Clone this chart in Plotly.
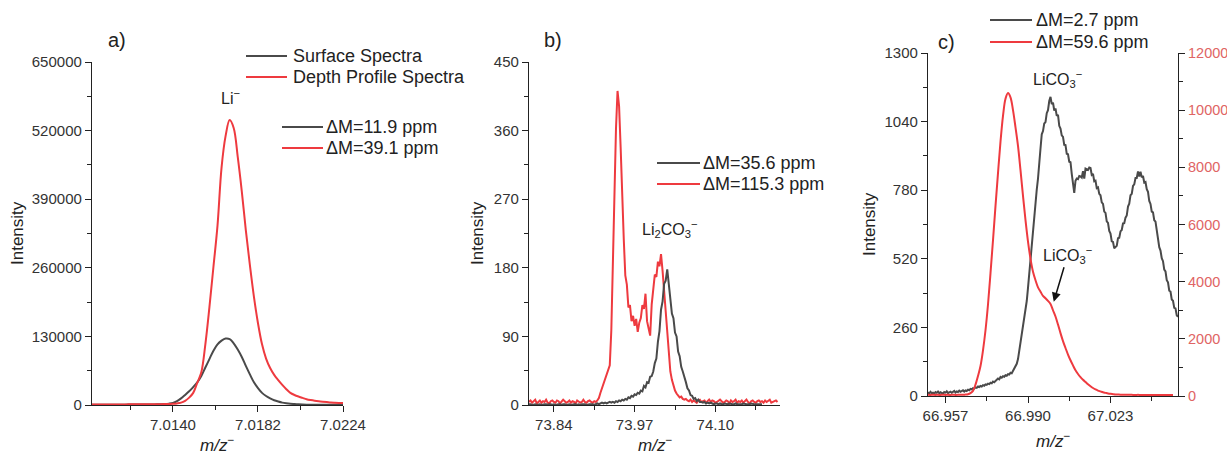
import plotly.graph_objects as go

W, H = 1227, 457

GRAY = "#4a4a4a"
RED = "#ee3a3f"
AXIS = "#222222"
FONT = "Liberation Sans, Arial, sans-serif"

# ---------------- a) Li- ----------------
A_MZ0, A_STEP = 7.0100, 0.0002
a_surface = [
    500, 500, 500, 550, 550, 600, 600, 650, 700, 750,
    800, 850, 900, 950, 1000, 1100, 1250, 1450, 1750, 2500,
    4000, 7500, 12500, 19000, 26000, 34000, 43000, 55000, 71000, 87000,
    103000, 115000, 122000, 126000, 125000, 117000, 105000, 91000, 74000, 58000,
    43000, 32000, 23000, 17000, 12500, 9000, 6500, 4500, 3200, 2300,
    1700, 1200, 900, 700, 600, 500, 450, 400, 400, 400,
    400, 400, 400,
]
a_depth = [
    1000, 1000, 1000, 1000, 1050, 1050, 1100, 1100, 1150, 1200,
    1250, 1300, 1350, 1400, 1450, 1500, 1550, 1650, 1800, 2000,
    2200, 3000, 4500, 8000, 14000, 23000, 42000, 62000, 115000, 185000,
    262000, 340000, 450000, 510000, 540000, 525000, 470000, 405000, 331000, 265000,
    205000, 155000, 115000, 88000, 70000, 57000, 47000, 38000, 30000, 23000,
    19000, 16000, 13500, 11000, 9300, 8000, 7000, 6200, 5500, 4800,
    4300, 3900, 3600,
]
a_mz = [round(A_MZ0 + A_STEP * i, 4) for i in range(len(a_surface))]

# ---------------- b) Li2CO3- ----------------
B_MZ0, B_STEP = 73.800, 0.0025
b_surface = [
    1, 1, 0, 1, 1, 0, 1, 1, 0, 1, 1, 1, 0, 1, 1, 0, 1, 0, 1, 1,
    1, 0, 1, 1, 0, 1, 1, 0, 1, 1, 1, 0, 1, 0, 1, 1, 1, 0, 1, 1,
    1, 1, 0, 1, 2, 1, 2, 3, 2, 3, 2, 3, 4,
    3, 4, 3, 5, 4, 6, 5, 7, 6, 8, 7, 10, 9, 12, 11, 14, 13, 16, 15, 19,
    18, 25, 23, 30, 29, 37, 38, 44, 55, 61, 83, 97, 125, 136, 159, 163,
    178, 160, 146, 120, 114, 95, 90, 70, 64, 50, 44, 35, 30, 22, 19, 13,
    12, 8, 9, 5, 7, 4,
    4, 3, 4, 2, 3, 2, 3, 2, 1, 2, 2, 1, 2, 1, 1, 2, 1, 1, 2, 1,
    1, 1, 2, 1, 1, 1, 1, 2, 1, 1, 1, 1, 2, 1, 1, 1, 1, 1, 1, 1,
]
b_depth = [
    4, 6, 3, 5, 7, 2, 4, 6, 3, 5, 4, 7, 3, 2, 5, 6, 4, 3, 6, 5,
    2, 4, 7, 5, 3, 4, 6, 3, 5, 4, 2, 6, 5, 3, 4, 7, 4, 3, 5, 6,
    4, 3, 5, 4, 6,
    9, 16, 22, 26, 31, 38, 45, 52,
    98, 185, 292, 362, 412, 392, 338, 262, 218, 170, 158, 128, 131, 110, 117, 104,
    113, 96, 108, 114, 131, 126, 146, 110, 100, 91, 132, 150, 171, 168, 188, 182,
    198, 176, 147, 118, 88, 62, 44, 33, 25, 19, 15, 13, 10, 11, 8, 7,
    8, 6, 5, 7, 4, 6, 5, 3, 6, 7, 4, 5, 6, 3, 5, 7, 4, 6, 5, 3,
    4, 6, 7, 5, 3, 4, 6, 5, 2, 6, 4, 5, 7, 3, 5, 4, 6, 3, 5, 7,
    4, 2, 5, 6, 4, 3, 5, 6, 4, 5, 3, 6, 4, 5, 7, 3, 4, 5, 6, 4,
]
b_mz_s = [round(B_MZ0 + B_STEP * i, 4) for i in range(len(b_surface))]
b_mz_d = [round(B_MZ0 + B_STEP * i, 4) for i in range(len(b_depth))]

# ---------------- c) LiCO3- ----------------
C_MZ0 = 66.950
C_STEP_S, C_STEP_D = 0.0005, 0.001
c_surface = [
    14, 9, 16, 11, 13, 8, 15, 12, 17, 10, 14, 12, 9, 15, 13, 18, 11, 14, 16, 12,
    15, 19, 13, 17, 15, 20, 16, 18, 22, 17, 21, 19, 24, 22, 27, 25, 30, 28, 33, 31,
    36, 34, 38, 36, 41, 39, 44, 42, 47, 45, 50, 48, 55, 52, 58, 61, 66, 63, 72, 69,
    75, 73, 79, 77, 83, 81, 88, 86, 95, 104, 112, 122, 140, 170, 210, 240, 262, 290, 318, 360,
    410, 466, 500, 556, 604, 668, 714, 782, 824, 897, 938, 992, 1004, 1033, 1038, 1072, 1083, 1118, 1134, 1106,
    1112, 1082, 1090, 1062, 1066, 1024, 1014, 988, 982, 952, 951, 918, 916, 888, 886, 842, 806, 770, 816, 824,
    822, 834, 832, 828, 852, 824, 862, 858, 857, 866, 864, 838, 842, 814, 816, 788, 791, 766, 761, 734,
    728, 699, 694, 662, 656, 626, 616, 586, 584, 560, 566, 569, 598, 600, 624, 629, 654, 655, 676, 684,
    718, 729, 761, 766, 796, 802, 826, 826, 851, 832, 850, 829, 834, 809, 811, 784, 774, 739, 728, 699,
    696, 666, 661, 622, 604, 564, 551, 522, 511, 479, 472, 439, 431, 399, 396, 366, 361, 334, 332, 306,
    300,
]
c_depth = [
    40, 35, 45, 38, 42, 36, 44, 39, 41, 37, 43, 38, 40, 45, 42, 50,
    60, 100, 180, 400, 700, 1050, 1600, 2300, 3200, 4300, 5450, 6650, 7800, 8900,
    9800, 10400, 10600, 10450, 10000, 9400, 8750, 7900, 7000, 6150, 5400, 4800, 4350, 4050,
    3800, 3650, 3500, 3420, 3330, 3220, 3000, 2780, 2500, 2200, 1920, 1680, 1450, 1250,
    1070, 900, 770, 660, 570, 490, 410, 340, 280, 230, 190, 160, 130, 110, 90, 75,
    65, 55, 50, 46, 44, 42, 40, 41, 39, 38, 40, 37, 39, 38, 36, 38, 37, 39, 36, 38,
    37, 36, 38, 37, 36,
]
c_mz_s = [round(C_MZ0 + C_STEP_S * i, 4) for i in range(len(c_surface))]
c_mz_d = [round(C_MZ0 + C_STEP_D * i, 4) for i in range(len(c_depth))]

# legend rows: (line x0, line x1, text x, y, colour, label) in pixels
LEGEND_ROWS = [
    (246, 287, 291, 56, GRAY, "Surface Spectra"),
    (246, 287, 291, 77, RED, "Depth Profile Spectra"),
    (282, 323, 324, 127, GRAY, "\u0394M=11.9 ppm"),
    (282, 323, 324, 148, RED, "\u0394M=39.1 ppm"),
    (657, 700, 701, 163, GRAY, "\u0394M=35.6 ppm"),
    (657, 700, 701, 184, RED, "\u0394M=115.3 ppm"),
    (990, 1032, 1034, 20, GRAY, "\u0394M=2.7 ppm"),
    (990, 1032, 1034, 42, RED, "\u0394M=59.6 ppm"),
]


def px(x):
    return x / W


def py(y):
    return 1 - y / H


fig = go.Figure()
line_g = dict(color=GRAY, width=2)
line_r = dict(color=RED, width=2)

# a)
fig.add_trace(go.Scatter(x=a_mz, y=a_surface, mode="lines", line=dict(line_g, shape="spline"),
                         name="Surface Spectra", xaxis="x", yaxis="y"))
fig.add_trace(go.Scatter(x=a_mz, y=a_depth, mode="lines", line=dict(line_r, shape="spline"),
                         name="Depth Profile Spectra", xaxis="x", yaxis="y"))

# b)
fig.add_trace(go.Scatter(x=b_mz_d, y=b_depth, mode="lines", line=line_r,
                         name="\u0394M=115.3 ppm", xaxis="x2", yaxis="y2"))
fig.add_trace(go.Scatter(x=b_mz_s, y=b_surface, mode="lines", line=line_g,
                         name="\u0394M=35.6 ppm", xaxis="x2", yaxis="y2"))

# c)
fig.add_trace(go.Scatter(x=c_mz_d, y=c_depth, mode="lines", line=dict(line_r, shape="spline"),
                         name="\u0394M=59.6 ppm", xaxis="x3", yaxis="y4"))
fig.add_trace(go.Scatter(x=c_mz_s, y=c_surface, mode="lines", line=line_g,
                         name="\u0394M=2.7 ppm", xaxis="x3", yaxis="y3"))

axis_common = dict(
    showline=True, linecolor=AXIS, linewidth=1.3, mirror=False, automargin=False,
    ticks="outside", ticklen=6, tickwidth=1.3, tickcolor=AXIS,
    showgrid=False, zeroline=False,
    tickfont=dict(family=FONT, size=15, color="#333333"),
)


def minor(dtick, tick0):
    return dict(ticks="outside", ticklen=3.5, tickwidth=1.2, tickcolor=AXIS,
                dtick=dtick, tick0=tick0, showgrid=False)


top_ab, bot_ab = py(62), py(405)
top_c, bot_c = py(53), py(396)

fig.update_layout(
    width=W, height=H,
    margin=dict(l=0, r=0, t=0, b=0, autoexpand=False),
    paper_bgcolor="white", plot_bgcolor="white",
    font=dict(family=FONT, size=14, color="#222222"),
    showlegend=False,
    xaxis=dict(axis_common, domain=[px(92), px(343)], anchor="y",
               range=[7.0100, 7.0224], tick0=7.0140, dtick=0.0042, tickformat=".4f",
               minor=minor(0.0021, 7.0140)),
    yaxis=dict(axis_common, domain=[bot_ab, top_ab], anchor="x",
               range=[0, 650000], tick0=0, dtick=130000, tickformat="d",
               minor=minor(65000, 0)),
    xaxis2=dict(axis_common, domain=[px(529), px(780)], anchor="y2",
                range=[73.80, 74.204], tick0=73.84, dtick=0.13, tickformat=".2f",
                minor=minor(0.065, 73.84)),
    yaxis2=dict(axis_common, domain=[bot_ab, top_ab], anchor="x2",
                range=[0, 450], tick0=0, dtick=90, tickformat="d",
                minor=minor(45, 0)),
    xaxis3=dict(axis_common, domain=[px(928), px(1178)], anchor="y3",
                range=[66.950, 67.050], tick0=66.957, dtick=0.033, tickformat=".3f",
                minor=minor(0.0165, 66.957)),
    yaxis3=dict(axis_common, domain=[bot_c, top_c], anchor="x3",
                range=[0, 1300], tick0=0, dtick=260, tickformat="d",
                minor=minor(130, 0)),
    yaxis4=dict(axis_common, overlaying="y3", side="right", anchor="x3",
                range=[0, 12000], tick0=0, dtick=2000, tickformat="d",
                tickfont=dict(family=FONT, size=14.5, color="#e06464"),
                minor=minor(1000, 0)),
)

ann = []
shapes = []


def label(text, x, y, size, anchor="center", **kw):
    ann.append(dict(text=text, x=px(x), y=py(y), xref="paper", yref="paper",
                    showarrow=False, xanchor=anchor, yanchor="middle",
                    font=dict(family=FONT, size=size, color="#222222"), **kw))


# legends: short line sample followed by its label
for x0, x1, tx, y, color, text in LEGEND_ROWS:
    shapes.append(dict(type="line", xref="paper", yref="paper",
                       x0=px(x0), x1=px(x1), y0=py(y), y1=py(y),
                       line=dict(color=color, width=2)))
    label(text, tx, y, 18, anchor="left")

# panel letters and ion labels
label("a)", 117, 40, 20)
label("b)", 553, 40, 20)
label("c)", 947, 42, 20)
label("Li<sup>\u2212</sup>", 230, 97, 16)
label("Li<sub>2</sub>CO<sub>3</sub><sup>\u2212</sup>", 669, 229, 16)
label("LiCO<sub>3</sub><sup>\u2212</sup>", 1057, 79, 16)

# axis titles
for cx, cy in ((18, 233), (478, 233), (870, 224)):
    label("Intensity", cx, cy, 17, textangle=-90)
label("<i>m/z</i><sup>\u2212</sup>", 217, 444, 17)
label("<i>m/z</i><sup>\u2212</sup>", 655, 444, 17)
label("<i>m/z</i><sup>\u2212</sup>", 1053, 440, 17)

# arrow pointing to the LiCO3- shoulder of the depth-profile spectrum
ann.append(dict(text="LiCO<sub>3</sub><sup>\u2212</sup>", x=67.0003, y=3300,
                xref="x3", yref="y4", showarrow=True, arrowhead=2, arrowsize=1.2,
                arrowwidth=1.5, arrowcolor="#111111", ax=14, ay=-47, standoff=0,
                font=dict(family=FONT, size=16, color="#222222")))

fig.update_layout(annotations=ann, shapes=shapes)

fig.write_html("out.html")
